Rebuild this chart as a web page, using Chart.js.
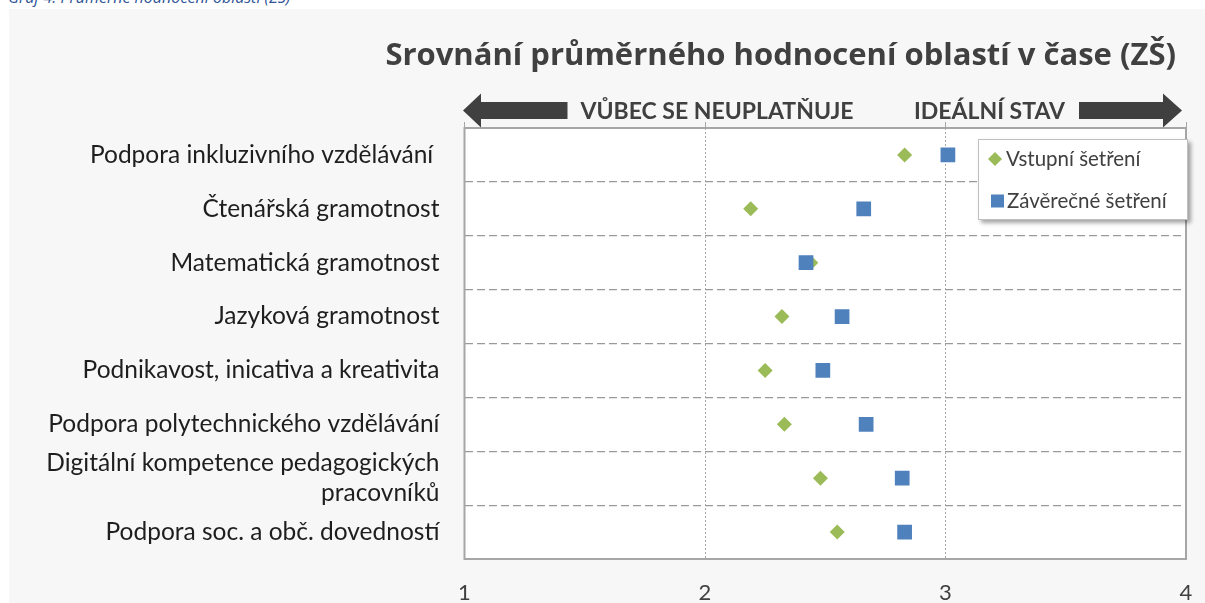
<!DOCTYPE html>
<html lang="cs">
<head>
<meta charset="utf-8">
<title>Srovnání průměrného hodnocení oblastí v čase (ZŠ)</title>
<script src="https://cdn.jsdelivr.net/npm/chart.js@4.4.1/dist/chart.umd.min.js"></script>
<style>
  html, body { margin: 0; padding: 0; background: #fff; overflow: hidden; }
  .caption { position: absolute; left: 8px; top: -14px; font: italic 16px "Open Sans", sans-serif; color: #2f5597; white-space: nowrap; }
  .panel { position: absolute; left: 9px; top: 9px; width: 1196px; height: 594px; background: #f7f7f7; }
</style>
</head>
<body>
<div class="caption">Graf 4: Průměrné hodnocení oblastí (ZŠ)</div>
<div class="panel"><canvas id="chart" width="1196" height="594"></canvas></div>
<script>
// oblasti (shora dolů)
const categories = [
  'Podpora inkluzivního vzdělávání ',
  'Čtenářská gramotnost',
  'Matematická gramotnost',
  'Jazyková gramotnost',
  'Podnikavost, inicativa a kreativita',
  'Podpora polytechnického vzdělávání',
  ['Digitální kompetence pedagogických', 'pracovníků'],
  'Podpora soc. a obč. dovedností'
];
const vstupni = [2.83, 2.19, 2.44, 2.32, 2.25, 2.33, 2.48, 2.55];
const zaverecne = [3.01, 2.66, 2.42, 2.57, 2.49, 2.67, 2.82, 2.83];
const xTicks = [1, 2, 3, 4];
const seriesNames = ['Vstupní šetření', 'Závěrečné šetření'];
const scaleEnds = ['VŮBEC SE NEUPLATŇUJE', 'IDEÁLNÍ STAV'];
const chartTitle = 'Srovnání průměrného hodnocení oblastí v čase (ZŠ)';

const GREEN = '#9bbb59';
const BLUE = '#4f81bd';
const DARK = '#404040';
const GRID = '#a6a6a6';

function drawArrow(ctx, tip, base, tail, y, hw, sw) {
  ctx.beginPath();
  ctx.moveTo(tip, y);
  ctx.lineTo(base, y - hw);
  ctx.lineTo(base, y - sw);
  ctx.lineTo(tail, y - sw);
  ctx.lineTo(tail, y + sw);
  ctx.lineTo(base, y + sw);
  ctx.lineTo(base, y + hw);
  ctx.closePath();
  ctx.fill();
}

// osa x si jinak nechává vpravo místo navíc kvůli odsazení popisků
function noSidePadding(s) {
  s.paddingLeft = 0;
  s.paddingRight = 0;
}

const decor = {
  id: 'decor',
  beforeDraw(chart) {
    const { ctx, chartArea: a } = chart;
    ctx.save();
    ctx.fillStyle = '#fff';
    ctx.fillRect(a.left, a.top, a.right - a.left, a.bottom - a.top);
    ctx.restore();
  },
  beforeDatasetsDraw(chart) {
    const { ctx, chartArea: a } = chart;
    ctx.save();
    ctx.strokeStyle = GRID;
    ctx.lineWidth = 2;
    ctx.strokeRect(a.left, a.top, a.right - a.left, a.bottom - a.top);
    ctx.restore();
  },
  afterDraw(chart) {
    const { ctx, chartArea: a } = chart;
    ctx.save();

    // nadpis
    ctx.fillStyle = DARK;
    ctx.font = 'bold 31px "Open Sans", sans-serif';
    ctx.textAlign = 'right';
    ctx.textBaseline = 'alphabetic';
    ctx.fillText(chartTitle, a.right - 10, 56);

    // šipky nad osou
    const y = a.top - 17.5;
    drawArrow(ctx, a.left - 1.5, a.left + 16.5, a.left + 103, y, 17, 8.5);
    drawArrow(ctx, a.right - 4, a.right - 23, a.right - 107, y, 17, 8.5);
    ctx.font = 'bold 23px Lato, sans-serif';
    ctx.textBaseline = 'middle';
    ctx.textAlign = 'left';
    ctx.fillText(scaleEnds[0], a.left + 116, y + 1);
    ctx.textAlign = 'right';
    ctx.fillText(scaleEnds[1], a.right - 121, y + 1);

    // legenda
    const lx = a.right - 208, ly = a.top + 11, lw = 210, lh = 81;
    ctx.save();
    ctx.shadowColor = 'rgba(0,0,0,0.35)';
    ctx.shadowBlur = 4;
    ctx.shadowOffsetX = 3;
    ctx.shadowOffsetY = 3;
    ctx.fillStyle = '#fff';
    ctx.fillRect(lx, ly, lw, lh);
    ctx.restore();
    ctx.strokeStyle = '#bfbfbf';
    ctx.lineWidth = 1;
    ctx.strokeRect(lx + 0.5, ly + 0.5, lw - 1, lh - 1);

    const sets = chart.data.datasets;
    ctx.font = '20.5px Lato, sans-serif';
    ctx.textAlign = 'left';
    ctx.textBaseline = 'middle';
    const rows = [ly + 20, ly + 62];
    ctx.fillStyle = sets[0].backgroundColor;
    ctx.beginPath();
    ctx.moveTo(lx + 10, rows[0]);
    ctx.lineTo(lx + 17, rows[0] - 7);
    ctx.lineTo(lx + 24, rows[0]);
    ctx.lineTo(lx + 17, rows[0] + 7);
    ctx.closePath();
    ctx.fill();
    ctx.fillStyle = sets[1].backgroundColor;
    ctx.fillRect(lx + 13, rows[1] - 6.5, 13, 13);
    ctx.fillStyle = DARK;
    ctx.fillText(sets[0].label, lx + 28, rows[0]);
    ctx.fillText(sets[1].label, lx + 29, rows[1]);

    ctx.restore();
  }
};

new Chart(document.getElementById('chart'), {
  type: 'line',
  data: {
    labels: categories,
    datasets: [{
      label: seriesNames[0],
      data: vstupni,
      showLine: false,
      pointStyle: 'rectRot',
      pointRadius: 7.5,
      pointHoverRadius: 7.5,
      pointBorderWidth: 0,
      backgroundColor: GREEN,
      borderColor: GREEN,
      order: 2
    }, {
      label: seriesNames[1],
      data: zaverecne,
      showLine: false,
      pointStyle: 'rect',
      pointRadius: 10.4,
      pointHoverRadius: 10.4,
      pointBorderWidth: 0,
      backgroundColor: BLUE,
      borderColor: BLUE,
      order: 1
    }]
  },
  options: {
    indexAxis: 'y',
    responsive: false,
    animation: false,
    layout: { padding: { top: 113, right: 19, bottom: 0, left: 0 } },
    plugins: {
      legend: { display: false },
      title: { display: false },
      tooltip: { enabled: false }
    },
    scales: {
      x: {
        type: 'linear',
        position: 'bottom',
        min: 1,
        max: 4,
        afterBuildTicks: s => { s.ticks = xTicks.map(v => ({ value: v })); },
        afterFit: s => { s.height = 44; noSidePadding(s); },
        ticks: { color: DARK, padding: 21, font: { family: 'Lato', size: 22 } },
        grid: { color: GRID, lineWidth: 1, drawTicks: false },
        border: { display: false, dash: [2, 2] }
      },
      xTop: {
        type: 'linear',
        position: 'top',
        min: 1,
        max: 4,
        afterBuildTicks: s => { s.ticks = xTicks.map(v => ({ value: v })); },
        afterFit: s => { s.height = 6; noSidePadding(s); },
        ticks: { display: false },
        grid: { color: GRID, lineWidth: 1, drawOnChartArea: false, drawTicks: true, tickLength: 6 },
        border: { display: false }
      },
      y: {
        type: 'category',
        offset: true,
        afterFit: s => { s.width = 455.5; },
        ticks: { color: '#1e1e1e', padding: 25, autoSkip: false, font: { family: 'Lato', size: 24.5, lineHeight: 1.25 } },
        grid: { offset: true, color: '#9a9a9a', lineWidth: 1.2, drawTicks: false },
        border: { display: false, dash: [8, 4] }
      }
    }
  },
  plugins: [decor]
});
</script>
</body>
</html>
